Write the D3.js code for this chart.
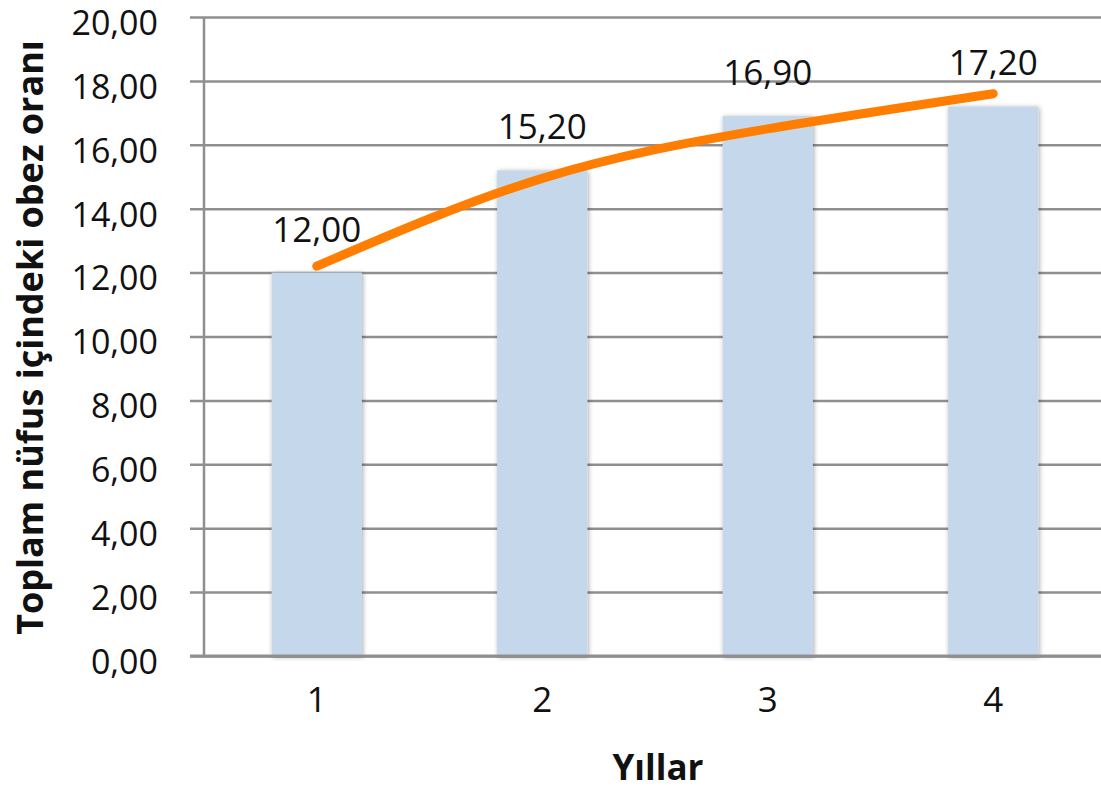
<!DOCTYPE html>
<html>
<head>
<meta charset="utf-8">
<script src="https://cdn.jsdelivr.net/npm/d3@7"></script>
<style>
  html, body { margin: 0; padding: 0; background: #fff; }
  svg { display: block; }
  text { font-family: "Open Sans", "Noto Sans", sans-serif; fill: #111; }
</style>
</head>
<body>
<svg id="chart" width="1101" height="789"></svg>
<script>
// Obesity share of total population by year
const years = ["1", "2", "3", "4"];
const obesityRates = [12.00, 15.20, 16.90, 17.20];
// Logarithmic trend line, sampled at each year
const trendValues = [12.2, 14.95, 16.5, 17.6];
const yTicks = [0, 2, 4, 6, 8, 10, 12, 14, 16, 18, 20];

const fmt = v => v.toFixed(2).replace(".", ",");

const svg = d3.select("#chart");
const margin = { left: 204, top: 17, right: -5, bottom: 133 };
const W = 1101, H = 789;

const x = d3.scaleBand()
  .domain(years)
  .range([margin.left, W - margin.right])
  .paddingInner(0.6)
  .paddingOuter(0.3);

const y = d3.scaleLinear()
  .domain([0, 20])
  .range([H - margin.bottom, margin.top]);

// drop shadow for bars
const defs = svg.append("defs");
const f = defs.append("filter").attr("id", "shadow")
  .attr("x", "-20%").attr("y", "-10%").attr("width", "140%").attr("height", "120%");
f.append("feGaussianBlur").attr("in", "SourceAlpha").attr("stdDeviation", 2.5).attr("result", "b");
f.append("feOffset").attr("in", "b").attr("dx", 1).attr("dy", 1).attr("result", "o");
f.append("feComponentTransfer").attr("in", "o").attr("result", "s")
  .append("feFuncA").attr("type", "linear").attr("slope", 0.35);
const m = f.append("feMerge");
m.append("feMergeNode").attr("in", "s");
m.append("feMergeNode").attr("in", "SourceGraphic");

// gridlines + y axis
const yAxis = d3.axisLeft(y)
  .tickValues(yTicks)
  .tickFormat(fmt)
  .tickSize(-(W - margin.left + 10))
  .tickPadding(46);

const gy = svg.append("g")
  .attr("transform", `translate(${margin.left},0)`)
  .call(yAxis);
gy.select(".domain").remove();
gy.selectAll(".tick line")
  .attr("x1", -14)
  .attr("stroke", "#8f8f8f")
  .attr("stroke-width", 2.5);
gy.selectAll(".tick text")
  .attr("font-size", 34)
  .attr("dy", "0.51em")
  .style("font-family", "'Open Sans', sans-serif")
  .attr("fill", "#111");

// vertical axis line
svg.append("line")
  .attr("x1", margin.left).attr("x2", margin.left)
  .attr("y1", y(20)).attr("y2", y(0))
  .attr("stroke", "#8f8f8f").attr("stroke-width", 2.5);

// bars
svg.append("g").selectAll("rect")
  .data(obesityRates)
  .join("rect")
  .attr("x", (d, i) => x(years[i]))
  .attr("width", x.bandwidth())
  .attr("y", d => y(d))
  .attr("height", d => y(0) - y(d))
  .attr("fill", "#c5d7eb")
  .attr("filter", "url(#shadow)");

// baseline on top of bars
svg.append("line")
  .attr("x1", margin.left - 14).attr("x2", W)
  .attr("y1", y(0)).attr("y2", y(0))
  .attr("stroke", "#8f8f8f").attr("stroke-width", 3);

// x axis labels
const xAxis = d3.axisBottom(x).tickSize(0).tickPadding(31);
const gx = svg.append("g")
  .attr("transform", `translate(0,${y(0)})`)
  .call(xAxis);
gx.select(".domain").remove();
gx.selectAll(".tick text")
  .attr("font-size", 35)
  .style("font-family", "'Open Sans', sans-serif")
  .attr("fill", "#111");

// trend line
const line = d3.line()
  .x((d, i) => x(years[i]) + x.bandwidth() / 2)
  .y(d => y(d))
  .curve(d3.curveNatural);
svg.append("path")
  .datum(trendValues)
  .attr("d", line)
  .attr("fill", "none")
  .attr("stroke", "#ff7d00")
  .attr("stroke-width", 9)
  .attr("stroke-linecap", "round");

// value labels
svg.append("g").selectAll("text")
  .data(obesityRates)
  .join("text")
  .attr("x", (d, i) => x(years[i]) + x.bandwidth() / 2)
  .attr("y", d => y(d) - 31)
  .attr("text-anchor", "middle")
  .attr("font-size", 35)
  .text(fmt);

// axis titles
svg.append("text")
  .attr("transform", `translate(43,${(47 + 628) / 2}) rotate(-90)`)
  .attr("text-anchor", "middle")
  .attr("font-size", 36)
  .attr("font-weight", "bold")
  .text("Toplam nüfus içindeki obez oranı");

svg.append("text")
  .attr("x", 658)
  .attr("y", 780)
  .attr("text-anchor", "middle")
  .attr("font-size", 35)
  .attr("font-weight", "bold")
  .text("Yıllar");
</script>
</body>
</html>
